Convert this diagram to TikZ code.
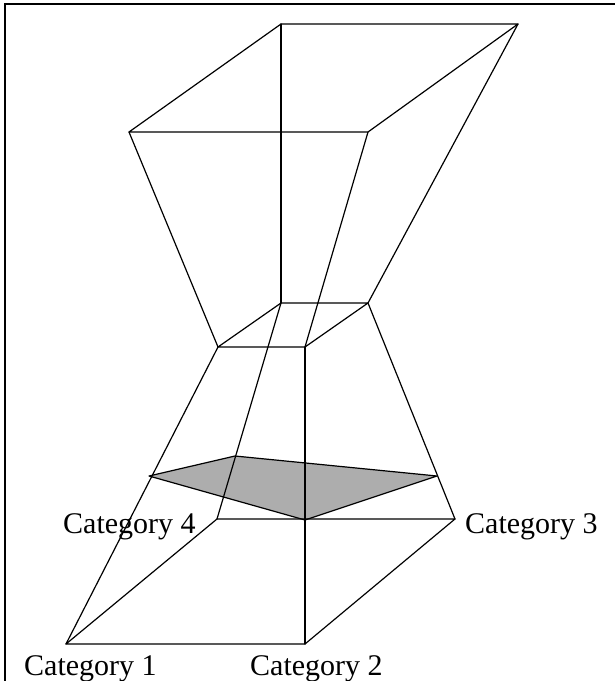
\documentclass[tikz,border=0pt]{standalone}
\usepackage{fontspec}
\setmainfont{Liberation Serif}
\begin{document}
\begin{tikzpicture}[x=1pt,y=-1pt,
  edge/.style={line width=1.2pt,line join=round,line cap=round},
  frame/.style={line width=1.6pt},
  catlabel/.style={inner sep=0pt,font=\fontsize{30}{36}\selectfont},
  slice/.style={fill=black!32,draw,line width=1.2pt,line join=round}]
\useasboundingbox (0,0) rectangle (615,681);
% frame (top and left)
\coordinate (F0) at (5,681);
\coordinate (F1) at (5,4);
\coordinate (F2) at (615,4);
\draw[frame] (F0) -- (F1) -- (F2);
% top face
\coordinate (TBL) at (281,24);
\coordinate (TBR) at (518,24);
\coordinate (TFR) at (368,132);
\coordinate (TFL) at (129,132);
% waist
\coordinate (WBL) at (281,303);
\coordinate (WBR) at (368,303);
\coordinate (WFR) at (305,347);
\coordinate (WFL) at (218,347);
% bottom face
\coordinate (BFL) at (66,644);
\coordinate (BFR) at (305,644);
\coordinate (BBR) at (455,519);
\coordinate (BBL) at (217,519);
% slice
\coordinate (SL) at (149,476);
\coordinate (ST) at (235,456);
\coordinate (SR) at (437,476);
\coordinate (SB) at (305,520);
\filldraw[slice] (SL) -- (ST) -- (SR) -- (SB) -- cycle;
% top face edges
\draw[edge] (TBL) -- (TBR) -- (TFR) -- (TFL) -- cycle;
% upper frustum edges
\draw[edge] (TBL) -- (WBL);
\draw[edge] (TBR) -- (WBR);
\draw[edge] (TFR) -- (WFR);
\draw[edge] (TFL) -- (WFL);
% waist
\draw[edge] (WBL) -- (WBR) -- (WFR) -- (WFL) -- cycle;
% lower frustum edges
\draw[edge] (WBL) -- (BBL);
\draw[edge] (WBR) -- (BBR);
\draw[edge] (WFR) -- (BFR);
\draw[edge] (WFL) -- (BFL);
% bottom face
\draw[edge] (BFL) -- (BFR) -- (BBR) -- (BBL) -- cycle;
% labels
\node[catlabel,anchor=base west] (L4) at (63,533) {Category 4};
\node[catlabel,anchor=base west] (L3) at (465,533) {Category 3};
\node[catlabel,anchor=base west] (L1) at (24,675) {Category 1};
\node[catlabel,anchor=base west] (L2) at (250,675) {Category 2};
\end{tikzpicture}
\end{document}
